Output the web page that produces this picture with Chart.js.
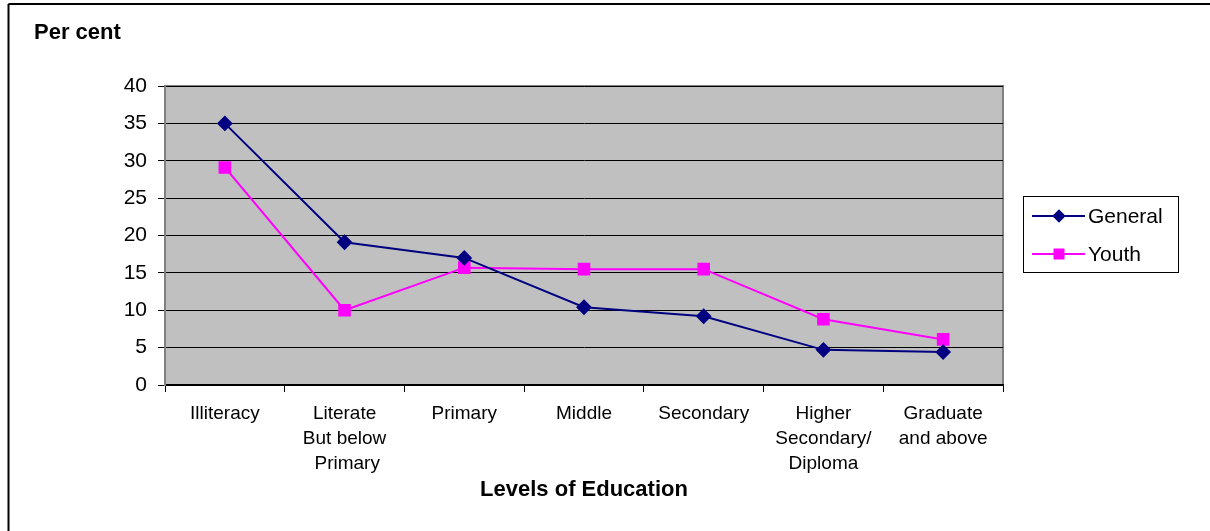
<!DOCTYPE html>
<html>
<head>
<meta charset="utf-8">
<script src="https://cdn.jsdelivr.net/npm/chart.js@4/dist/chart.umd.min.js"></script>
<style>
  html, body { margin: 0; padding: 0; background: #fff; }
  #wrap { width: 1210px; height: 531px; position: relative; }
</style>
</head>
<body>
<div id="wrap"><canvas id="eduChart" width="1210" height="531"></canvas></div>
<script>
const levels = [
  "Illiteracy",
  ["Literate", "But below", " Primary"],
  "Primary",
  "Middle",
  "Secondary",
  ["Higher", "Secondary/", "Diploma"],
  ["Graduate", "and above"]
];
const generalVals = [35, 19.1, 17, 10.4, 9.2, 4.7, 4.4];
const youthVals = [29.1, 10.0, 15.7, 15.5, 15.5, 8.8, 6.1];
const yTicks = [0, 5, 10, 15, 20, 25, 30, 35, 40];

const sansFont = '"Liberation Sans", Arial, sans-serif';

// gray plot area + frame, outer box lines, "Per cent" caption
const backdrop = {
  id: 'backdrop',
  beforeDraw(chart) {
    const {ctx, chartArea: a} = chart;
    ctx.save();
    ctx.fillStyle = '#c0c0c0';
    ctx.fillRect(a.left, a.top, a.right - a.left, a.bottom - a.top);
    ctx.strokeStyle = '#808080';
    ctx.lineWidth = 2;
    ctx.strokeRect(a.left, a.top, a.right - a.left, a.bottom - a.top);
    ctx.strokeStyle = '#000';
    ctx.lineWidth = 2;
    ctx.beginPath();
    ctx.moveTo(8.5, 4); ctx.lineTo(1210, 4);
    ctx.moveTo(8.5, 4); ctx.lineTo(8.5, 531);
    ctx.stroke();
    ctx.fillStyle = '#000';
    ctx.font = 'bold 22px ' + sansFont;
    ctx.textBaseline = 'middle';
    ctx.fillText('Per cent', 34, 33);
    ctx.restore();
  }
};

// legend box with line + marker samples
const sideLegend = {
  id: 'sideLegend',
  afterDraw(chart) {
    const {ctx} = chart;
    const x = 1023, y = 196, w = 155, h = 76;
    ctx.save();
    ctx.fillStyle = '#fff';
    ctx.fillRect(x, y, w, h);
    ctx.strokeStyle = '#000';
    ctx.lineWidth = 1;
    ctx.strokeRect(x + 0.5, y + 0.5, w, h);
    ctx.font = '21px ' + sansFont;
    ctx.textBaseline = 'middle';
    chart.data.datasets.forEach((ds, i) => {
      const cy = y + 20 + i * 38;
      ctx.strokeStyle = ds.borderColor;
      ctx.lineWidth = 2;
      ctx.beginPath();
      ctx.moveTo(x + 9, cy); ctx.lineTo(x + 62, cy);
      ctx.stroke();
      ctx.fillStyle = ds.pointBackgroundColor;
      Chart.helpers.drawPoint(ctx, {pointStyle: ds.pointStyle, radius: ds.pointRadius, borderWidth: 0}, x + 36, cy);
      ctx.fill();
      ctx.fillStyle = '#000';
      ctx.fillText(ds.label, x + 65, cy + 1);
    });
    ctx.restore();
  }
};

new Chart(document.getElementById('eduChart').getContext('2d'), {
  type: 'line',
  data: {
    labels: levels,
    datasets: [
      {
        label: 'General',
        data: generalVals,
        borderColor: '#000080',
        backgroundColor: '#000080',
        pointBackgroundColor: '#000080',
        pointBorderColor: '#000080',
        pointStyle: 'rectRot',
        pointRadius: 6.5,
        borderWidth: 2,
        tension: 0
      },
      {
        label: 'Youth',
        data: youthVals,
        borderColor: '#ff00ff',
        backgroundColor: '#ff00ff',
        pointBackgroundColor: '#ff00ff',
        pointBorderColor: '#ff00ff',
        pointStyle: 'rect',
        pointRadius: 7.5,
        borderWidth: 2,
        tension: 0
      }
    ]
  },
  options: {
    responsive: false,
    animation: false,
    layout: { padding: { top: 86, right: 207, left: 0, bottom: 0 } },
    plugins: {
      legend: { display: false },
      tooltip: { enabled: false }
    },
    scales: {
      x: {
        offset: true,
        grid: {
          offset: true,
          drawOnChartArea: false,
          drawTicks: true,
          tickLength: 7,
          color: '#000',
          lineWidth: 1
        },
        border: { color: '#000', width: 1.5 },
        ticks: {
          color: '#000',
          maxRotation: 0,
          autoSkip: false,
          padding: 10,
          font: { family: sansFont, size: 19, lineHeight: 1.29 }
        },
        title: {
          display: true,
          text: 'Levels of Education',
          color: '#000',
          font: { family: sansFont, size: 22, weight: 'bold', lineHeight: 1.2 },
          padding: { top: 0, bottom: 28 }
        },
        afterFit(scale) { scale.height = 146; }
      },
      y: {
        min: 0,
        max: 40,
        afterBuildTicks(scale) { scale.ticks = yTicks.map(v => ({ value: v })); },
        grid: {
          color: '#000',
          lineWidth: 1,
          tickLength: 7
        },
        border: { color: '#808080', width: 2 },
        ticks: {
          color: '#000',
          padding: 11,
          font: { family: sansFont, size: 21 }
        },
        afterFit(scale) { scale.width = 165; }
      }
    }
  },
  plugins: [backdrop, sideLegend]
});
</script>
</body>
</html>
